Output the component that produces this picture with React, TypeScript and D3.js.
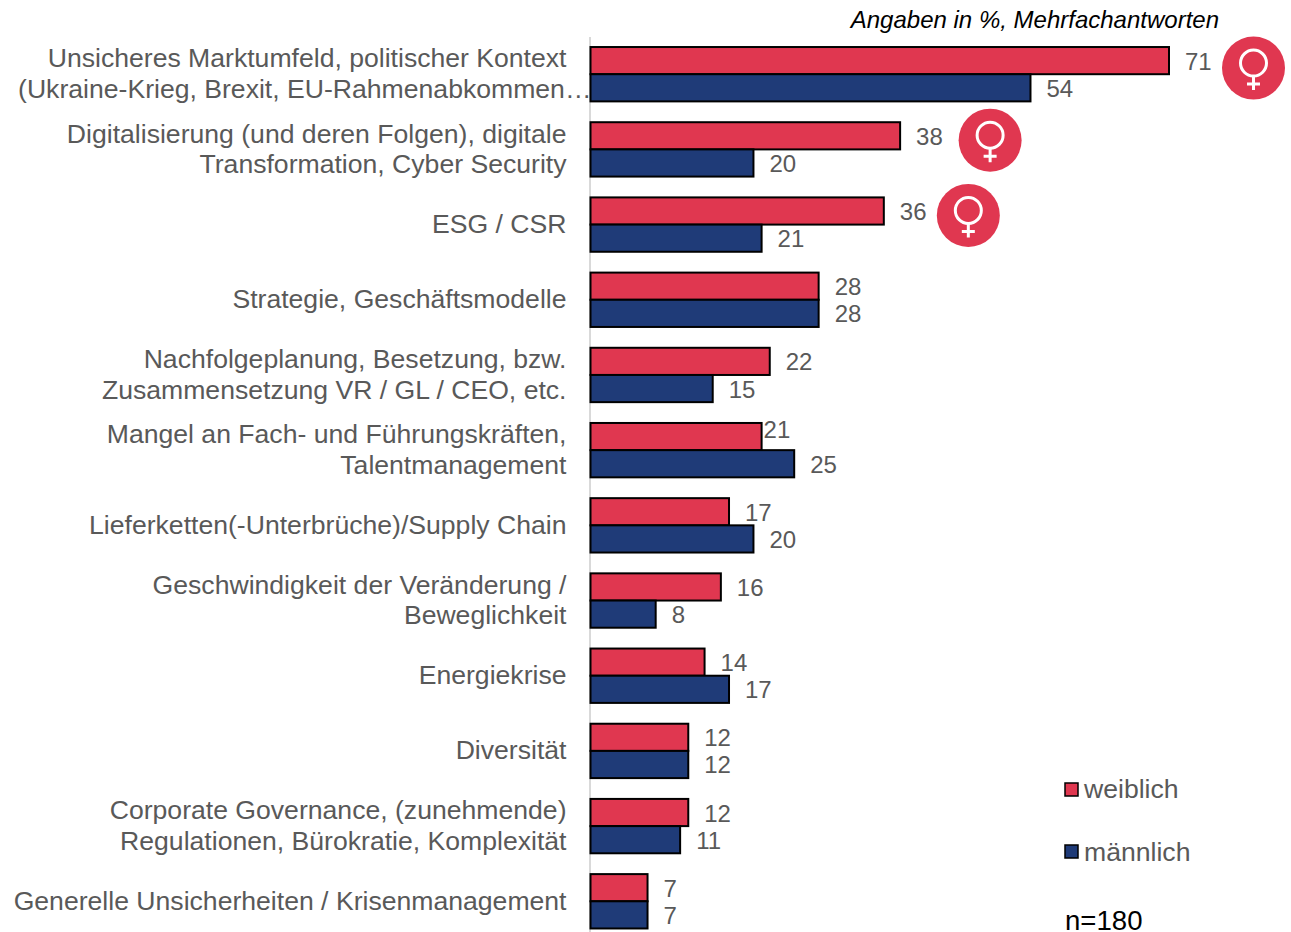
import React, { useEffect, useRef } from 'react';
import * as d3 from 'd3';

const categories: string[][] = [
  ['Unsicheres Marktumfeld, politischer Kontext', '(Ukraine-Krieg, Brexit, EU-Rahmenabkommen…'],
  ['Digitalisierung (und deren Folgen), digitale', 'Transformation, Cyber Security'],
  ['ESG / CSR'],
  ['Strategie, Geschäftsmodelle'],
  ['Nachfolgeplanung, Besetzung, bzw.', 'Zusammensetzung VR / GL / CEO, etc.'],
  ['Mangel an Fach- und Führungskräften,', 'Talentmanagement'],
  ['Lieferketten(-Unterbrüche)/Supply Chain'],
  ['Geschwindigkeit der Veränderung /', 'Beweglichkeit'],
  ['Energiekrise'],
  ['Diversität'],
  ['Corporate Governance, (zunehmende)', 'Regulationen, Bürokratie, Komplexität'],
  ['Generelle Unsicherheiten / Krisenmanagement'],
];
const weiblich = [71, 38, 36, 28, 22, 21, 17, 16, 14, 12, 12, 7];
const maennlich = [54, 20, 21, 28, 15, 25, 20, 8, 17, 12, 11, 7];
const femaleHighlights = [0, 1, 2];

const RED = '#e03750';
const BLUE = '#1f3b78';
const GREY = '#595959';
const FONT = '"Liberation Sans", Arial, sans-serif';

const App = () => {
  const ref = useRef<SVGSVGElement>(null);

  useEffect(() => {
    const svg = d3.select(ref.current);
    svg.selectAll('*').remove();

    const x = d3.scaleLinear().domain([0, 71]).range([590.5, 1169]);
    const y = d3
      .scaleBand<number>()
      .domain(d3.range(categories.length))
      .range([36.5, 939])
      .paddingInner(0.277)
      .paddingOuter(0.14);
    const barH = y.bandwidth() / 2;

    // Axis line
    svg.append('line')
      .attr('x1', 590).attr('x2', 590)
      .attr('y1', 37).attr('y2', 932)
      .attr('stroke', '#d9d9d9').attr('stroke-width', 2);

    const rows = svg.selectAll('g.row')
      .data(categories)
      .enter()
      .append('g')
      .attr('class', 'row')
      .attr('transform', (d, i) => `translate(0,${y(i)})`);

    // Bars
    const drawBars = (values: number[], color: string, offset: number) => {
      rows.append('rect')
        .attr('x', x(0))
        .attr('y', offset)
        .attr('width', (d, i) => x(values[i]) - x(0))
        .attr('height', barH)
        .attr('fill', color)
        .attr('stroke', '#000')
        .attr('stroke-width', 2);

      rows.append('text')
        .text((d, i) => values[i])
        // the 21 of row 6 sits tight against its bar in the original
        .attr('x', (d, i) => (values === weiblich && i === 5 ? x(values[i]) + 2 : x(values[i]) + 16))
        .attr('y', (d, i) => offset + barH / 2 + (values === weiblich && i === 5 ? 1 : 9))
        .attr('font-family', FONT)
        .attr('font-size', 24)
        .attr('fill', GREY);
    };
    drawBars(weiblich, RED, 0);
    drawBars(maennlich, BLUE, barH);

    // Category labels
    rows.each(function (d) {
      const text = d3.select(this).append('text')
        .attr('text-anchor', 'end')
        .attr('font-family', FONT)
        .attr('font-size', 26.6)
        .attr('fill', GREY);
      d.forEach((line, j) => {
        text.append('tspan')
          .attr('x', line.endsWith('…') ? 591.5 : 566.5)
          .attr('y', barH + 8.5 - ((d.length - 1) * 30.6) / 2 + j * 30.6)
          .text(line);
      });
    });

    // Female markers
    femaleHighlights.forEach((i) => {
      const cx = x(weiblich[i]) + (i === 1 ? 90 : 84.5);
      const cy = (y(i) as number) + (i === 0 ? 21 : 18);
      const g = svg.append('g').attr('transform', `translate(${cx},${cy})`);
      g.append('circle').attr('r', 31.5).attr('fill', RED);
      g.append('circle').attr('cy', -5).attr('r', 13)
        .attr('fill', 'none').attr('stroke', '#fff').attr('stroke-width', 3);
      g.append('path')
        .attr('d', 'M0,8 V22 M-6.5,16 H6.5')
        .attr('fill', 'none').attr('stroke', '#fff').attr('stroke-width', 3);
    });

    // Note top right
    svg.append('text')
      .text('Angaben in %, Mehrfachantworten')
      .attr('x', 1219).attr('y', 28)
      .attr('text-anchor', 'end')
      .attr('font-family', FONT)
      .attr('font-style', 'italic')
      .attr('font-size', 24)
      .attr('fill', '#000');

    // Legend
    const legend = [
      { label: 'weiblich', color: RED, ly: 790, ty: 798 },
      { label: 'männlich', color: BLUE, ly: 852, ty: 860.5 },
    ];
    legend.forEach((l) => {
      svg.append('rect')
        .attr('x', 1065).attr('y', l.ly - 7)
        .attr('width', 13).attr('height', 13)
        .attr('fill', l.color)
        .attr('stroke', '#000').attr('stroke-width', 1.5);
      svg.append('text')
        .text(l.label)
        .attr('x', 1084).attr('y', l.ty)
        .attr('font-family', FONT)
        .attr('font-size', 26.6)
        .attr('fill', GREY);
    });

    svg.append('text')
      .text('n=180')
      .attr('x', 1065).attr('y', 929.5)
      .attr('font-family', FONT)
      .attr('font-size', 27.6)
      .attr('fill', '#000');
  }, []);

  return (
    <svg
      ref={ref}
      width={1291}
      height={932}
      style={{ position: 'absolute', left: 0, top: 0, background: '#fff' }}
    />
  );
};

export default App;
